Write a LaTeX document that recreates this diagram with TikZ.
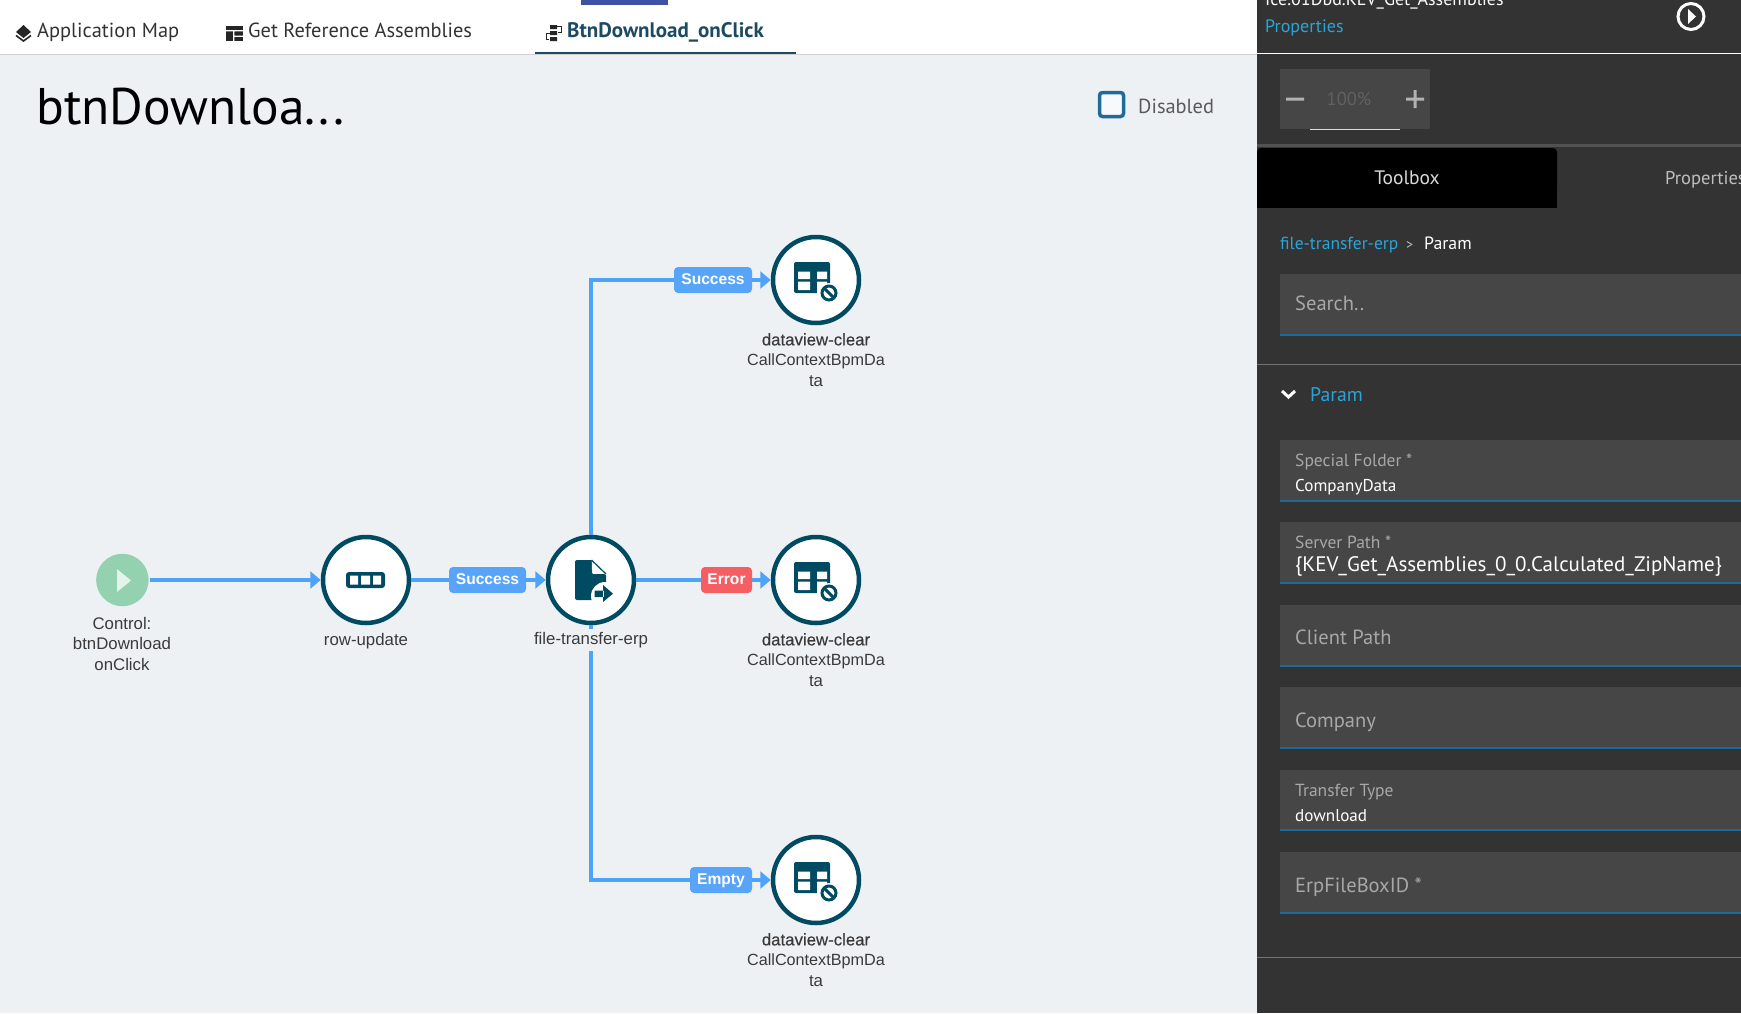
\documentclass[tikz,border=0pt]{standalone}
\usepackage{fontspec}
\setmainfont{PT Sans}
\newfontfamily\lbl{Liberation Sans}
\newfontfamily\lblm[FakeBold=0.3]{Liberation Sans}
\newfontfamily\ttl{PT Sans}
\usetikzlibrary{arrows.meta,calc}
\definecolor{bgc}{HTML}{EEF1F4}
\definecolor{dark}{HTML}{333333}
\definecolor{field}{HTML}{464646}
\definecolor{teal}{HTML}{004A62}
\definecolor{edgec}{HTML}{4DA3F7}
\definecolor{badge}{HTML}{58A4F8}
\definecolor{errc}{HTML}{F55F63}
\definecolor{startc}{HTML}{94D1B0}
\definecolor{cyanc}{HTML}{2AA5D8}
\definecolor{uline}{HTML}{1C6A9C}
\definecolor{lblc}{HTML}{3A3A3A}
\definecolor{grayt}{HTML}{A8A8A8}
\definecolor{tabc}{HTML}{1D4A62}
\definecolor{indig}{HTML}{3F51A5}
\definecolor{chkc}{HTML}{1F6A99}
\tikzset{
  x=1pt,y=-1pt,
  flow/.style={draw=teal,line width=4.5pt,fill=white,circle,minimum size=86pt,inner sep=0pt},
  startn/.style={fill=startc,circle,minimum size=52.5pt,inner sep=0pt,outer sep=1pt},
  edgeline/.style={draw=edgec,line width=3.2pt,-{Triangle[length=10.5pt,width=17pt]}},
  badgen/.style={fill=#1,rounded corners=4pt,text=white,font=\lbl\fontsize{15.6}{18}\selectfont\bfseries,text height=11.5pt,text depth=3.5pt,minimum height=26pt,inner sep=0pt,anchor=center},
  badgen/.default=badge,
  lab/.style={text=lblc,align=center,fill=bgc,inner sep=0pt,font=\lbl\fontsize{16.8}{20.4}\selectfont,anchor=north},
  txt/.style={anchor=mid west,inner sep=0pt,yshift=-4pt},
  fname/.style={txt,text=grayt,font=\fontsize{20.5}{22}\selectfont},
  fsmall/.style={txt,text=grayt,font=\fontsize{17.5}{18}\selectfont},
  fval/.style={txt,text=white,font=\fontsize{17.1}{18}\selectfont},
  tabt/.style={txt,text=black!80,font=\fontsize{20.4}{22}\selectfont},
  dvicon/.pic={
    \fill[teal,rounded corners=2pt] (-22,-18) rectangle (14,13);
    \fill[white] (-18,-8.5) rectangle (-6,-1) (-18,1.5) rectangle (-6,10) (1,-8.5) rectangle (11,-1) (1,1.5) rectangle (11,14);
    \fill[white] (13,13) circle (10);
    \draw[teal,line width=3pt] (13,13) circle (7);
    \draw[teal,line width=3pt] (8.5,8.5) -- (17.5,17.5);
  },
}
\newcommand{\ccb}{{\fontsize{16.2}{20.4}\selectfont CallContextBpmDa}}
\begin{document}
\begin{tikzpicture}
\useasboundingbox (0,0) rectangle (1741,1013);
\clip (0,0) rectangle (1741,1013);
% backgrounds
\fill[bgc] (0,54) rectangle (1257,1013);
\fill[white] (0,0) rectangle (1257,53);
\draw[black!18,line width=1pt] (0,54) -- (1257,54);
\fill[dark] (1257,0) rectangle (1741,1013);
% tabs
\fill[indig] (581,0) rectangle (668,5);
\fill[tabc] (535,52) rectangle (796,54);
% layers icon
\fill[black!85] (23.5,25) -- (31,32) -- (23.5,38) -- (16,32) -- cycle;
\draw[black!85,line width=1.6pt] (16,35.5) -- (23.5,41) -- (31,35.5);
\node[tabt] (tabA) at (37,31) {Application Map};
% table tab icon
\fill[black!85] (226,26) rectangle (243,41);
\fill[white] (226,30) rectangle (243,31.3) (233,31) rectangle (234.3,41) (234,35.5) rectangle (243,36.8);
\node[tabt] (tabB) at (248,31) {Get Reference Assemblies};
% flow tab icon
\fill[black!85] (550,25) rectangle (557,29) (550,31) rectangle (557,35) (550,37) rectangle (557,41);
\draw[black!85,line width=1pt] (557,26.5) -- (561,26.5) -- (561,32) -- (558,32) (550,33.5) -- (546,33.5) -- (546,39.5) -- (549,39.5);
\node[tabt,text=tabc,font=\fontsize{21}{22}\selectfont\bfseries] (tabC) at (567,31) {BtnDownload\_onClick};
% title
\node[txt,text=black,font=\ttl\fontsize{51.5}{54}\selectfont] (title) at (36,118) {btnDownloa...};
% disabled
\node[draw=chkc,fill=white!60!bgc,line width=3.5pt,minimum size=24pt,inner sep=0pt,rounded corners=3pt] (chk) at (1111.5,104.5) {};
\node[txt,text=black!65,font=\fontsize{20.4}{22}\selectfont] (dis) at (1138,107) {Disabled};
% flow nodes
\node[startn] (st) at (122.4,580) {};
\fill[white!75!startc] (117,569) -- (131,580.5) -- (117,592) -- cycle;
\node[flow] (ru) at (366,580) {};
\node[flow] (ft) at (591,580) {};
\node[flow] (d1) at (816,280) {};
\node[flow] (d2) at (816,580) {};
\node[flow] (d3) at (816,880) {};
\pic at (816,280) {dvicon};
\pic at (816,580) {dvicon};
\pic at (816,880) {dvicon};
% row icon
\fill[teal,rounded corners=3pt] (346,572) rectangle (385,588);
\fill[white] (350,575.5) rectangle (358,584.5) (361,575.5) rectangle (370,584.5) (373,575.5) rectangle (381,584.5);
% file icon
\fill[teal,rounded corners=2pt] (575,560) -- (591.5,560) -- (591.5,574) -- (606,574) -- (606,600) -- (575,600) -- cycle;
\fill[teal] (585,560) rectangle (591.5,574) (591.5,570) rectangle (592,574);
\draw[teal,line width=1.2pt] (591.5,560) -- (606,574);
\fill[white] (605,596) circle (14);
\fill[teal] (594.5,590.5) rectangle (604,597) (603,585) -- (613,593.7) -- (603,602) -- cycle;
% edges
\draw[edgeline] (st) -- (ru);
\draw[edgeline] (ru) -- (ft);
\draw[edgeline] (ft.east) -- (d2);
\draw[edgeline] (ft.north) |- (d1);
\draw[edgeline] (ft.south) |- (d3);
% badges
\node[badgen,minimum width=78pt] (b1) at (713,280) {Success};
\node[badgen,minimum width=77pt] (b2) at (487.5,580) {Success};
\node[badgen=errc,minimum width=51pt] (b3) at (726.5,580) {Error};
\node[badgen,minimum width=62pt] (b4) at (721,880) {Empty};
% labels
\node[lab] (lst) at (122,617) {Control:\\btnDownload\\onClick};
\node[lab] (lru) at (366,633) {row-update};
\node[lab,anchor=center,minimum height=22pt] (lft) at (591,640) {file-transfer-erp};
\node[lab] (l1) at (816,333) {{\lblm dataview-clear}\\\ccb\\ta};
\node[lab] (l2) at (816,633) {{\lblm dataview-clear}\\\ccb\\ta};
\node[lab] (l3) at (816,933) {{\lblm dataview-clear}\\\ccb\\ta};
% right panel
\draw[white,line width=1pt] (1257,53) -- (1741,53);
\node[txt,text=white,font=\fontsize{18}{20}\selectfont] (ctx) at (1265,-1) {Ice.01Dbd.KEV\_Get\_Assemblies};
\node[txt,text=cyanc,font=\fontsize{18}{20}\selectfont] (prop) at (1265,26) {Properties};
\node[draw=white,line width=3pt,circle,minimum size=26pt,inner sep=0pt] (play) at (1691,16.5) {};
\fill[white] (1688,9) -- (1696,16.5) -- (1688,24) -- cycle;
\fill[field] (1280,69) rectangle (1430,129);
\fill[black!13] (1310,128.5) rectangle (1400,130);
\fill[black!30] (1286,97.5) rectangle (1304,100.5) (1406,97.5) rectangle (1424,100.5) (1413.5,90) rectangle (1416.5,108);
\node[anchor=center,inner sep=0pt,text=black!62,font=\fontsize{18.5}{20}\selectfont] (pct) at (1349,99) {100\%};
\fill[black!68!white] (1257,144) rectangle (1741,147);
\fill[black,rounded corners=4pt] (1257,148) rectangle (1557,190);
\fill[black] (1257,160) rectangle (1557,208);
\node[anchor=center,inner sep=0pt,text=black!15,font=\fontsize{19.5}{20}\selectfont] (tb) at (1407,178) {Toolbox};
\node[txt,text=black!25,font=\fontsize{18.5}{20}\selectfont] (pp) at (1665,178) {Properties};
\node[txt,text=cyanc,font=\fontsize{17.5}{20}\selectfont] (bc1) at (1280,243) {file-transfer-erp};
\node[txt,text=black!25,font=\fontsize{14}{20}\selectfont] (bc2) at (1406,243) {>};
\node[txt,text=white,font=\fontsize{17.8}{20}\selectfont] (bc3) at (1424,243) {Param};
\fill[field] (1280,274) rectangle (1741,335);
\fill[uline] (1280,334) rectangle (1741,336);
\node[fname] (search) at (1295,304) {Search..};
\draw[black!55,line width=1pt] (1257,364) -- (1741,364);
\draw[white,line width=3pt] (1282,391) -- (1288.5,397) -- (1295,391);
\node[txt,text=cyanc,font=\fontsize{19.7}{20}\selectfont] (par) at (1310,395) {Param};
\foreach \a/\b in {440/501,522/583,605/666,687/748,770/830,852/913}{
  \fill[field] (1280,\a) rectangle (1741,\b);
  \fill[uline] (1280,\b-1) rectangle (1741,\b+1);
}
\node[fsmall] (f1) at (1295,460) {Special Folder *};
\node[fval] (v1) at (1295,485) {CompanyData};
\node[fsmall] (f2) at (1295,542) {Server Path *};
\node[fval,font=\fontsize{21}{22}\selectfont] (v2) at (1295,565) {\{KEV\_Get\_Assemblies\_0\_0.Calculated\_ZipName\}};
\node[fname] (f3) at (1295,638) {Client Path};
\node[fname] (f4) at (1295,721) {Company};
\node[fsmall] (f5) at (1295,790) {Transfer Type};
\node[fval] (v5) at (1295,815) {download};
\node[fname] (f6) at (1295,886) {ErpFileBoxID *};
\draw[black!55,line width=1pt] (1257,957) -- (1741,957);
\end{tikzpicture}
\end{document}
